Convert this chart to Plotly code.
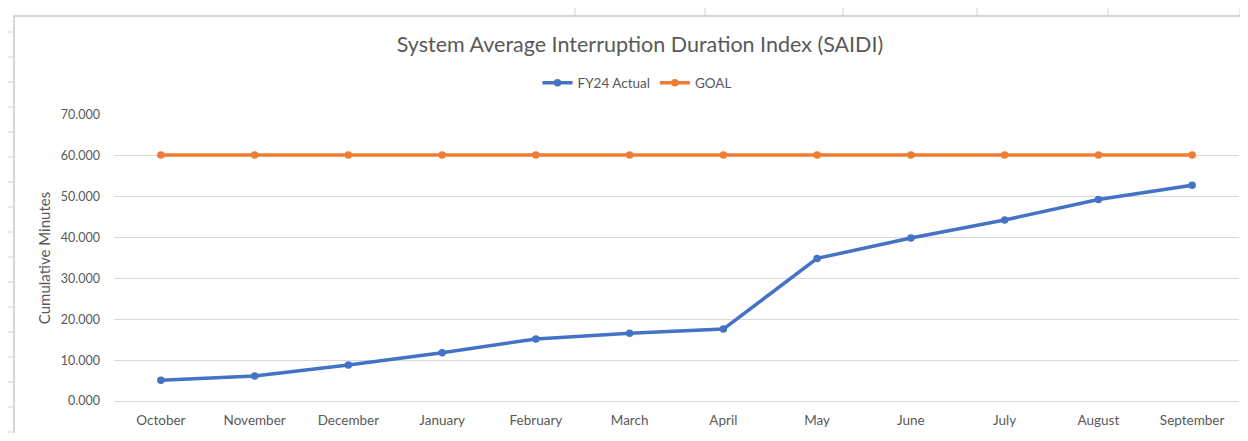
import plotly.graph_objects as go

months = ["October", "November", "December", "January", "February", "March",
          "April", "May", "June", "July", "August", "September"]
fy24_actual = [5.1, 6.1, 8.8, 11.8, 15.2, 16.6, 17.6, 34.9, 39.9, 44.3, 49.3, 52.8]
goal = [60.2] * 12
y_ticks = [0, 10, 20, 30, 40, 50, 60, 70]

# the page body has an 8px margin, so the figure starts at (8, 8)
OFF = 8
W, H = 1232, 425
ML, MR, MT, MB = 106, 1, 107, 32
PW, PH = W - ML - MR, H - MT - MB


def px(x):
    return (x - OFF - ML) / PW


def py(y):
    return (H - MB - (y - OFF)) / PH


fig = go.Figure()
fig.add_trace(go.Scatter(
    x=months, y=fy24_actual, name="FY24 Actual", mode="lines+markers",
    line=dict(color="#4472C4", width=3.5), marker=dict(size=7.5, color="#4472C4")))
fig.add_trace(go.Scatter(
    x=months, y=goal, name="GOAL", mode="lines+markers",
    line=dict(color="#ED7D31", width=3.5), marker=dict(size=7.5, color="#ED7D31")))

shapes = []
# spreadsheet surroundings (left strip)
for yy in range(32, 460, 25):
    shapes.append(dict(type="line", xref="paper", yref="paper",
                       x0=px(OFF), x1=px(14), y0=py(yy), y1=py(yy),
                       line=dict(color="#d4d4d4", width=1)))
# top strip column separators
for xx in [575, 705, 843, 977, 1108, 1240]:
    shapes.append(dict(type="line", xref="paper", yref="paper",
                       x0=px(xx), x1=px(xx), y0=py(OFF), y1=py(16),
                       line=dict(color="#d4d4d4", width=1)))
# chart area border
shapes.append(dict(type="rect", xref="paper", yref="paper",
                   x0=px(14), x1=px(1260), y0=py(16), y1=py(470),
                   line=dict(color="#c8c8c8", width=1.5), fillcolor="rgba(0,0,0,0)",
                   layer="below"))

fig.update_layout(
    width=W, height=H,
    margin=dict(l=ML, r=MR, t=MT, b=MB),
    paper_bgcolor="white", plot_bgcolor="white",
    font=dict(family="Lato, Open Sans, sans-serif", color="#595959", size=12),
    title=dict(text="System Average Interruption Duration Index (SAIDI)",
               x=(640 - OFF) / W, xref="container", xanchor="center",
               y=1 - (44 - OFF) / H, yanchor="middle",
               font=dict(size=21.5, color="#595959")),
    legend=dict(orientation="h", x=px(637), xanchor="center", xref="paper",
                y=py(83), yanchor="middle", yref="paper",
                font=dict(size=13.5, color="#595959"),
                itemwidth=30, bgcolor="rgba(0,0,0,0)"),
    xaxis=dict(type="category", range=[-0.5, 11.5], showgrid=False,
               showline=True, linecolor="#d9d9d9", linewidth=1,
               ticks="", ticklabelstandoff=7, tickfont=dict(size=13.5)),
    yaxis=dict(range=[0, 70], tickvals=y_ticks, tickformat=".3f",
               showgrid=True, gridcolor="#d9d9d9", gridwidth=1,
               zeroline=False, showline=False, ticks="",
               ticklabelstandoff=13, tickfont=dict(size=12.5),
               title=dict(text="Cumulative Minutes", font=dict(size=15, color="#595959"),
                          standoff=6)),
    shapes=shapes,
)

fig.write_html("out.html")
